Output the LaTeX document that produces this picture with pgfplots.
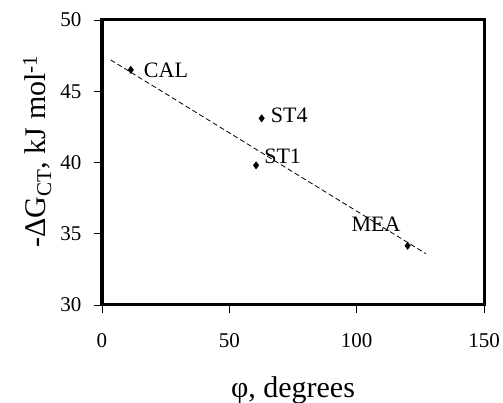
\documentclass[border=0pt]{standalone}
\usepackage{fontspec}
\setmainfont{Liberation Serif}
\usepackage{pgfplots}
\pgfplotsset{compat=1.18}
\newcommand\tickfont{\fontsize{21}{21}\selectfont}
\begin{document}
\begin{tikzpicture}
\begin{axis}[
  name=ax,
  at={(0,0)}, anchor=south west,
  scale only axis,
  width=382pt, height=285pt,
  xmin=0, xmax=150, ymin=30, ymax=50,
  xtick={0,50,100,150}, ytick={30,35,40,45,50},
  xticklabels={{\tickfont 0},{\tickfont 50},{\tickfont 100},{\tickfont 150}},
  yticklabels={{\tickfont 30},{\tickfont 35},{\tickfont 40},{\tickfont 45},{\tickfont 50}},
  xticklabel style={yshift=-17pt},
  yticklabel style={xshift=-9pt},
  axis line style={line width=3pt},
  tick align=outside, major tick length=8pt,
  tick style={line width=0.9pt, black},
  xtick pos=left, ytick pos=left,
  xlabel={φ, degrees},
  ylabel={-ΔG\textsubscript{CT}, kJ mol\textsuperscript{-1}},
  label style={font=\fontsize{30}{30}\selectfont},
  xlabel style={at={(axis description cs:0.5,-0.326)}, anchor=base},
  ylabel style={at={(axis description cs:-0.147,0.539)}, rotate=0, anchor=base},
  clip=false,
]
\addplot[black, line width=0.8pt, dash pattern=on 5pt off 3pt] coordinates {(3.4,47.2) (127.2,33.6)};
\addplot[only marks, mark=diamond*, mark size=3.6pt, black, line width=0.5pt] coordinates {
  (11.3,46.5) (62.7,43.1) (60.5,39.8) (120,34.16)
};
\begin{scope}[font=\fontsize{22}{22}\selectfont]
\node[anchor=west, inner sep=0pt] at ([xshift=13pt]axis cs:11.3,46.5) {CAL};
\node[anchor=west, inner sep=0pt] at ([xshift=9pt,yshift=3pt]axis cs:62.7,43.1) {ST4};
\node[anchor=base west, inner sep=0pt] at ([xshift=8pt,yshift=2pt]axis cs:60.5,39.8) {ST1};
\node[anchor=base east, inner sep=0pt] at ([xshift=-7pt,yshift=14pt]axis cs:120,34.16) {MEA};
\end{scope}
\end{axis}
\draw[line width=3pt] (ax.south west) rectangle (ax.north east);
\pgfresetboundingbox
\path[use as bounding box] ([shift={(-102pt,-98pt)}]ax.south west) rectangle ([shift={(401pt,305pt)}]ax.south west);
\end{tikzpicture}
\end{document}
